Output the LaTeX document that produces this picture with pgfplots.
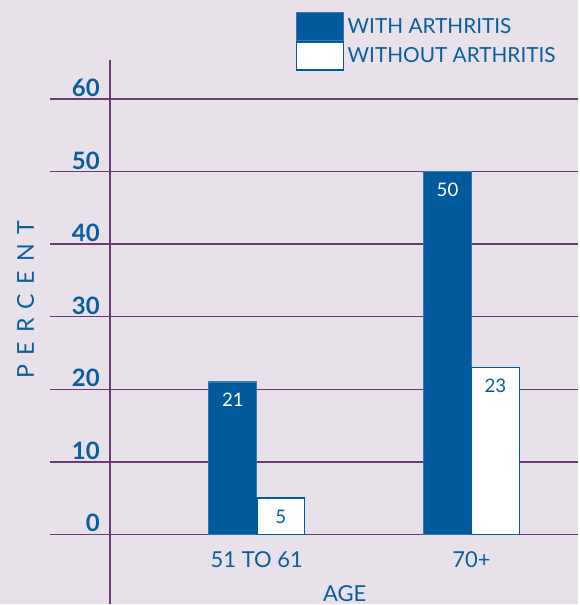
\documentclass[border=0pt]{standalone}
\usepackage{pgfplots}
\pgfplotsset{compat=1.18}
\usepackage{fontspec}
\setmainfont{Lato}
\definecolor{bg}{HTML}{E8E1E9}
\definecolor{barblue}{HTML}{005A9C}
\definecolor{txtblue}{HTML}{0A5E9E}
\definecolor{gridpur}{HTML}{6B3A78}
\begin{document}
\begin{tikzpicture}
\begin{axis}[
  scale only axis,
  width=434.25pt, height=453.75pt,
  xmin=-0.1953, xmax=2.4977,
  ymin=-9.633, ymax=73.62,
  axis background/.style={fill=bg},
  axis line style={draw=none},
  major tick length=0pt,
  clip=false,
  ybar,
  bar width=36pt,
  ytick={0,10,20,30,40,50,60},
  yticklabel style={anchor=south east, inner sep=0pt, xshift=75pt, yshift=1.5pt,
    font=\fontsize{18}{20}\selectfont\bfseries, text=txtblue},
  /pgf/number format/assume math mode=true,
  xtick={1,2},
  xticklabels={51 TO 61, 70+},
  xticklabel style={anchor=base, inner sep=0pt, yshift=27.75pt,
    font=\fontsize{16.5}{18}\selectfont, text=txtblue},
  xlabel={AGE},
  xlabel style={at={(axis description cs:0.5959,0.004)}, anchor=base, inner sep=0pt,
    font=\fontsize{16.5}{18}\selectfont, text=txtblue},
  ylabel={\addfontfeature{LetterSpace=40}PERCENT},
  ylabel style={at={(axis description cs:0.0441,0.504)}, anchor=center, inner sep=0pt,
    font=\fontsize{17.4}{20}\selectfont, text=txtblue},
  legend image code/.code={\draw[#1] (0pt,-10.5pt) rectangle (35.25pt,10.5pt);},
  legend style={at={(0.5112,0.9802)}, anchor=north west, draw=none, fill=none,
    inner sep=0pt, row sep=0pt, column sep=0pt,
    font=\fontsize{15.6}{18}\selectfont, text=txtblue,
    nodes={inner sep=0pt, inner xsep=2.5pt}},
  legend cell align=left,
  nodes near coords,
  nodes near coords style={anchor=base, yshift=-18.75pt, inner sep=0pt,
    font=\fontsize{14}{16}\selectfont},
]
\foreach \yy in {0,10,20,30,40,50,60}{
  \edef\tmp{\noexpand\draw[gridpur, line width=1pt] (axis cs:0.0372,\yy) -- (axis cs:2.4977,\yy);}
  \tmp
}
\draw[gridpur, line width=1pt] (axis cs:0.3163,65.37) -- (axis cs:0.3163,-9.633);
\addplot[fill=barblue, draw=barblue!80!white, line width=0.8pt, bar shift=-18pt,
  nodes near coords style={text=white}]
  coordinates {(1,21) (2,50)};
\addplot[fill=white, draw=barblue, line width=1.1pt, bar shift=18pt,
  nodes near coords style={text=txtblue}]
  coordinates {(1,5) (2,23)};
\legend{WITH ARTHRITIS, WITHOUT ARTHRITIS}
\end{axis}
\end{tikzpicture}
\end{document}
